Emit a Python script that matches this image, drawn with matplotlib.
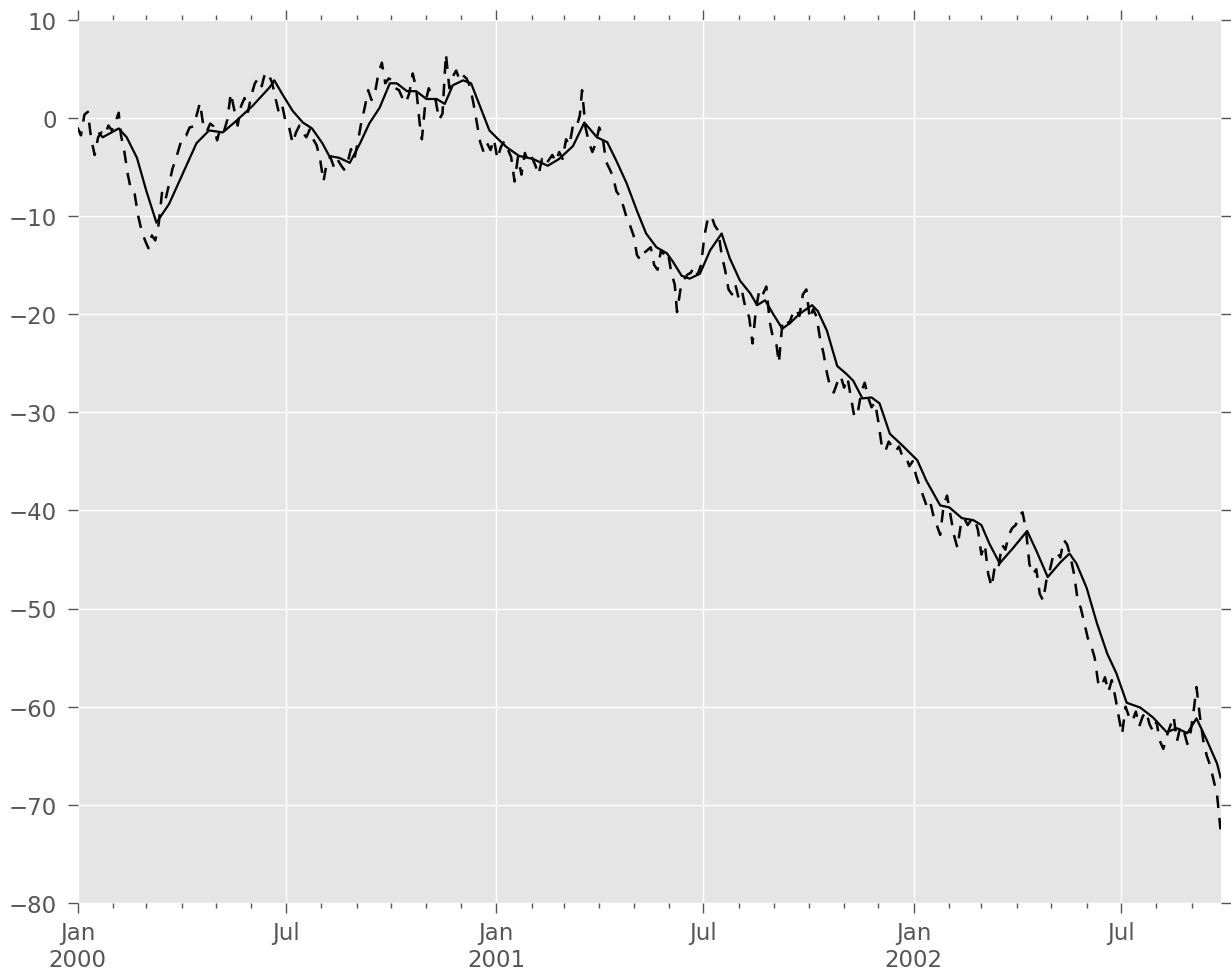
import matplotlib
matplotlib.use("Agg")
import matplotlib.pyplot as plt
import matplotlib.dates as mdates
import pandas as pd

# ---------------- data ----------------
start_date = "2000-01-01"

raw_days = [0, 3, 6, 9, 12, 15, 18, 21, 24, 27, 30, 33, 36, 38, 41, 44, 47, 50, 53, 56,
            59, 62, 65, 68, 71, 74, 77, 80, 83, 86, 89, 92, 95, 98, 101, 104, 107, 110, 113, 116,
            119, 122, 125, 128, 131, 134, 137, 140, 143, 146, 149, 152, 155, 158, 161, 164, 167, 170,
            173, 176, 179, 182, 185, 188, 191, 194, 197, 200, 203, 206, 209, 212, 215, 218, 221, 224,
            227, 230, 233, 236, 239, 242, 245, 248, 251, 254, 257, 260, 263, 266, 269, 272, 275, 278,
            281, 284, 287, 290, 293, 296, 299, 301, 304, 307, 310, 313, 316, 319, 322, 325, 328, 331,
            334, 337, 340, 343, 346, 349, 352, 355, 358, 361, 364, 367,
            370, 373, 376, 379, 382, 385, 388, 391, 394, 397, 400, 403, 406, 409, 412, 415, 418, 421,
            424, 427, 430, 433, 436, 439, 441, 444, 447, 450, 453, 456, 459, 462, 465, 468, 471, 474,
            477, 480, 483, 486, 489, 492, 495, 498, 501, 504, 507, 510, 513, 516, 519, 522, 524, 527,
            530, 533, 536, 539, 542, 545, 548, 551,
            554, 557, 560, 563, 566, 569, 572, 575, 578, 581, 584, 587, 590, 593, 596, 599, 602, 605,
            608, 611, 613, 616, 619, 622, 625, 628, 631, 634, 637, 640, 643, 646, 649, 652, 655, 658,
            661, 664, 667, 670, 673, 676, 679, 682, 685, 688, 691, 694, 697, 700, 703, 706, 709, 712,
            715, 718, 721,
            724, 727, 730, 733, 736, 739, 742, 745, 748, 751, 754, 757, 760, 763, 766, 769, 772, 775,
            778, 781, 784, 787, 790, 793, 796, 799, 802, 805, 808, 811, 814, 817, 820, 823, 826, 829,
            832, 835, 838, 841, 844, 847, 850, 853, 856, 859, 862, 865,
            868, 871, 874, 877, 880, 883, 886, 889, 892, 895, 898, 901, 904, 907, 910, 913, 916, 919,
            922, 925, 928, 931, 934, 937, 940, 943, 946, 949, 952, 955, 958, 961, 964, 967, 970, 973,
            976, 978, 981, 984, 987, 990, 993, 996, 999]

raw_vals = [-1.0, -1.8, 0.3, 0.6, -2.2, -3.8, -2.0, -1.5, -1.8, -0.8, -1.3, -0.5, 0.5, -1.8, -3.5, -5.8, -7.5, -7.8, -10.0, -11.5,
            -12.5, -13.3, -12.0, -12.5, -10.8, -7.5, -8.3, -6.8, -5.2, -4.2, -3.0, -1.9, -1.8, -1.0, -0.9, 0.2, 1.5, -0.8, -1.4, -0.6,
            -0.9, -2.3, -1.0, -1.4, -0.2, 2.5, 0.8, -0.8, 1.2, 2.0, 0.6, 2.3, 3.5, 4.0, 3.2, 4.6, 4.4, 3.6,
            2.0, 0.5, 1.2, -0.5, -1.0, -2.6, -1.5, -0.8, -1.5, -2.0, -1.2, -2.2, -2.8, -4.2, -6.5, -4.5, -4.0, -5.0,
            -4.2, -4.8, -5.3, -4.6, -3.2, -4.2, -2.5, -0.5, 1.0, 2.8, 1.8, 2.5, 4.5, 5.6, 3.5, 4.0, 3.8, 3.0,
            2.8, 2.0, 1.5, 2.5, 4.5, 3.0, -0.5, -2.2, 1.5, 3.0, 2.2, 1.8, -0.2, 0.4, 6.5, 3.0, 4.2, 4.8,
            3.8, 4.3, 4.0, 3.2, 1.5, -0.5, -2.5, -3.5, -2.6, -3.3, -2.2, -4.2,
            -3.0, -2.4, -3.2, -4.0, -6.5, -4.0, -5.8, -3.6, -4.5, -4.0, -4.8, -5.8, -4.2, -4.8, -4.3, -3.8, -4.5, -3.5,
            -4.2, -2.2, -2.8, -0.8, -1.0, 0.2, 2.8, -1.0, -2.5, -3.5, -2.6, -1.0, -2.0, -4.5, -5.2, -6.0, -7.5, -8.0,
            -9.0, -10.2, -11.0, -12.0, -14.0, -14.5, -13.8, -13.5, -13.2, -15.0, -15.5, -13.5, -14.0, -13.7, -15.8, -17.0, -19.8, -17.5,
            -16.5, -16.0, -15.8, -15.2, -16.0, -15.0, -12.0, -10.2,
            -10.0, -11.0, -11.5, -14.0, -15.5, -17.5, -18.0, -17.0, -18.5, -17.8, -19.5, -20.3, -23.0, -19.5, -17.5, -18.0, -17.2, -20.8,
            -22.5, -23.2, -25.0, -21.0, -20.5, -21.0, -20.0, -19.5, -20.2, -18.0, -17.5, -20.5, -19.5, -20.3, -22.5, -24.0, -26.0, -27.5,
            -28.0, -27.0, -26.3, -27.5, -26.5, -28.5, -30.5, -30.0, -28.0, -27.0, -28.5, -29.5, -29.0, -31.0, -33.5, -34.0, -33.0, -33.5,
            -34.0, -33.5, -34.5,
            -34.5, -35.5, -35.0, -36.5, -37.5, -38.5, -39.5, -39.0, -40.5, -41.5, -42.5, -39.5, -38.5, -40.5, -42.5, -43.8, -41.5, -40.8,
            -41.5, -41.0, -40.8, -42.0, -44.5, -43.5, -46.5, -47.8, -45.5, -45.8, -43.5, -44.0, -42.5, -41.8, -41.5, -40.5, -40.2, -42.0,
            -45.5, -46.5, -46.0, -48.5, -49.2, -47.0, -46.0, -44.5, -44.3, -44.8, -43.0, -43.5,
            -44.8, -46.5, -49.0, -50.0, -51.5, -53.0, -53.8, -55.0, -57.5, -58.0, -57.0, -58.5, -57.3, -59.0, -61.0, -62.8, -60.0, -61.0,
            -61.5, -60.5, -62.0, -61.0, -60.5, -61.8, -62.5, -61.5, -63.5, -64.3, -63.0, -62.0, -61.0, -63.5, -62.0, -62.5, -63.8, -62.5,
            -60.0, -58.0, -61.0, -63.5, -65.0, -66.0, -67.5, -69.0, -72.5]

mean_days = [19, 22, 36, 43, 52, 60, 69, 80, 92, 104, 115, 127, 139, 153, 168, 172, 179, 188, 197, 205,
             214, 220, 229, 238, 247, 255, 264, 273, 279, 288, 296, 305, 314, 321, 328, 337, 344, 351, 360, 366,
             375, 386, 398, 411, 421, 433, 443, 454, 463, 471, 480, 489, 497, 506, 515, 520, 528, 535, 544, 553,
             563, 570, 579, 588, 594, 601, 608, 616, 623, 631, 642, 647, 655, 664, 672, 678, 686, 694, 701, 710,
             721, 734, 742, 754, 762, 773, 783, 790, 797, 806, 818, 830, 838, 848, 859, 867, 873, 882, 891, 900,
             908, 917, 929, 940, 952, 961, 970, 978, 987, 996, 999]

mean_vals = [-1.6, -2.0, -1.1, -2.0, -4.1, -7.4, -10.7, -8.8, -5.7, -2.6, -1.3, -1.5, -0.3, 1.2, 3.1, 3.8, 2.4, 0.7, -0.5, -1.1,
             -2.6, -3.9, -4.1, -4.6, -2.6, -0.6, 1.0, 3.5, 3.5, 2.7, 2.7, 1.9, 1.9, 1.4, 3.3, 3.8, 3.5, 1.4, -1.3, -2.0,
             -3.0, -3.9, -4.2, -4.9, -4.2, -2.9, -0.5, -2.0, -2.5, -4.4, -6.7, -9.5, -11.8, -13.2, -13.8, -14.6, -16.1, -16.4, -15.9, -13.5,
             -11.8, -14.3, -16.6, -17.9, -19.1, -18.6, -20.0, -21.5, -20.9, -20.0, -19.1, -19.7, -21.7, -25.3, -26.1, -26.8, -28.6, -28.5, -29.1, -32.2,
             -33.4, -34.9, -37.0, -39.5, -39.7, -40.8, -41.0, -41.5, -43.4, -45.4, -43.8, -42.1, -44.1, -46.8, -45.3, -44.4, -45.4, -47.9, -51.5, -54.6,
             -56.6, -59.6, -60.1, -61.1, -62.6, -62.2, -62.7, -61.2, -63.4, -65.8, -67.2]

y_ticks = [10, 0, -10, -20, -30, -40, -50, -60, -70, -80]

# ---------------- figure ----------------
W, H, DPI = 1231, 979, 100
fig = plt.figure(figsize=(W / DPI, H / DPI), dpi=DPI)
ax = fig.add_axes([77.5 / W, 1 - 904 / H, (1220.5 - 77.5) / W, (904 - 20.5) / H])

base = pd.Timestamp(start_date)
raw_dates = [base + pd.Timedelta(days=d) for d in raw_days]
mean_dates = [base + pd.Timedelta(days=d) for d in mean_days]

ax.set_facecolor("#E5E5E5")
ax.grid(True, which="major", color="white", linewidth=1.0)
ax.set_axisbelow(True)
for s in ax.spines.values():
    s.set_visible(False)

ax.plot(raw_dates, raw_vals, color="black", linestyle="--", linewidth=1.8, dashes=(5, 4))
ax.plot(mean_dates, mean_vals, color="black", linestyle="-", linewidth=1.6)

ax.set_xlim(base, base + pd.Timedelta(days=999))
ax.set_ylim(-80, 10)
ax.set_yticks(y_ticks)
ax.set_yticklabels([("\u2212" + str(-v)) if v < 0 else str(v) for v in y_ticks])

ax.xaxis.set_major_locator(mdates.MonthLocator(bymonth=[1, 7]))
ax.xaxis.set_minor_locator(mdates.MonthLocator())


def fmt(x, pos=None):
    d = mdates.num2date(x)
    if d.month == 1:
        return d.strftime("%b") + "\n" + d.strftime("%Y")
    return d.strftime("%b")


ax.xaxis.set_major_formatter(matplotlib.ticker.FuncFormatter(fmt))

ax.tick_params(axis="both", which="major", direction="out", length=7, width=1.0,
               color="#555555", labelcolor="#555555", labelsize=16.5, pad=6,
               top=True, right=True)
ax.tick_params(axis="both", which="minor", direction="out", length=3.5, width=1.0,
               color="#555555", top=True, right=True)
ax.tick_params(axis="y", which="major", pad=8)

fig.savefig("out.png", dpi=DPI, facecolor="white")
